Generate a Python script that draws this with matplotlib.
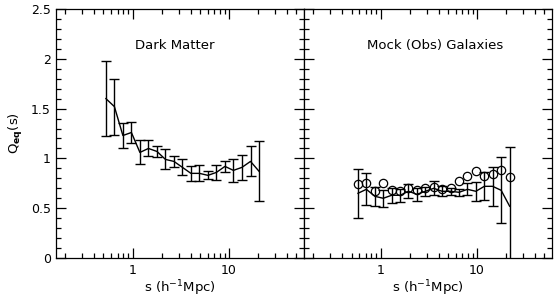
import numpy as np
import matplotlib as mpl
mpl.use('Agg')
import matplotlib.pyplot as plt
from matplotlib.ticker import MultipleLocator, FixedLocator, NullFormatter

# dark matter panel
s_dm = [0.53, 0.649, 0.795, 0.974, 1.193, 1.462, 1.791, 2.194, 2.687, 3.292,
        4.03, 4.94, 6.05, 7.41, 9.08, 11.1, 13.6, 16.7, 20.5]
q_dm = [1.60, 1.52, 1.23, 1.26, 1.06, 1.10, 1.07, 0.99, 0.97, 0.91,
        0.85, 0.85, 0.83, 0.86, 0.92, 0.88, 0.91, 0.97, 0.87]
err_dm = [0.38, 0.28, 0.13, 0.11, 0.12, 0.08, 0.055, 0.10, 0.055, 0.08,
          0.075, 0.08, 0.04, 0.075, 0.055, 0.115, 0.125, 0.15, 0.30]

# mock galaxies panel
s_mock = [0.58, 0.709, 0.867, 1.061, 1.297, 1.587, 1.941, 2.374, 2.903, 3.55,
          4.34, 5.31, 6.50, 7.95, 9.72, 11.9, 14.5, 17.8, 21.8]
q_mock = [0.65, 0.69, 0.62, 0.60, 0.63, 0.63, 0.67, 0.64, 0.67, 0.70,
          0.67, 0.67, 0.66, 0.69, 0.67, 0.72, 0.72, 0.68, 0.52]
err_mock = [0.245, 0.16, 0.095, 0.085, 0.075, 0.065, 0.07, 0.065, 0.045, 0.07,
            0.05, 0.035, 0.035, 0.06, 0.095, 0.14, 0.195, 0.33, 0.59]
q_obs = [0.74, 0.75, 0.67, 0.75, 0.68, 0.67, 0.70, 0.68, 0.70, 0.71,
         0.69, 0.70, 0.77, 0.82, 0.87, 0.82, 0.84, 0.88, 0.81]

fig = plt.figure(figsize=(5.57, 2.98), dpi=100)
ax1 = fig.add_axes([0.100, 0.134, 0.446, 0.836])
ax2 = fig.add_axes([0.546, 0.134, 0.445, 0.836])

for ax in (ax1, ax2):
    ax.set_xscale('log')
    ax.set_xlim(0.16, 60)
    ax.set_ylim(0, 2.5)
    ax.xaxis.set_major_locator(FixedLocator([1, 10]))
    ax.xaxis.set_minor_locator(FixedLocator([0.2, 0.3, 0.4, 0.5, 0.6, 0.7, 0.8, 0.9,
                                             2, 3, 4, 5, 6, 7, 8, 9,
                                             20, 30, 40, 50]))
    ax.xaxis.set_minor_formatter(NullFormatter())
    ax.set_xticklabels(['1', '10'])
    ax.yaxis.set_major_locator(MultipleLocator(0.5))
    ax.yaxis.set_minor_locator(MultipleLocator(0.1))
    ax.tick_params(which='both', direction='in', top=True, right=True,
                   width=0.9, labelsize=9)
    ax.tick_params(which='major', length=7)
    ax.tick_params(which='minor', length=3.5)
    ax.tick_params(axis='x', pad=4)
    for sp in ax.spines.values():
        sp.set_linewidth(0.9)
    ax.set_xlabel('s (h$^{-1}$Mpc)', fontsize=9.5, labelpad=1)

ax1.set_yticks([0, 0.5, 1, 1.5, 2, 2.5])
ax1.set_yticklabels(['0', '0.5', '1', '1.5', '2', '2.5'])
ax1.set_ylabel('Q$_{\\mathbf{eq}}$(s)', fontsize=9.5)
ax2.tick_params(labelleft=False)

ax1.errorbar(s_dm, q_dm, yerr=err_dm, color='black', lw=1.0, elinewidth=1.0,
             capsize=3.5, capthick=1.0)
ax1.text(0.48, 0.855, 'Dark Matter', transform=ax1.transAxes, ha='center',
         va='center', fontsize=9.5)

ax2.errorbar(s_mock, q_mock, yerr=err_mock, color='black', lw=1.0, elinewidth=1.0,
             capsize=3.5, capthick=1.0)
ax2.plot(s_mock, q_obs, 'o', mfc='none', mec='black', ms=6, mew=0.9)
ax2.text(0.53, 0.855, 'Mock (Obs) Galaxies', transform=ax2.transAxes, ha='center',
         va='center', fontsize=9.5)

plt.savefig('out.png', dpi=100)
